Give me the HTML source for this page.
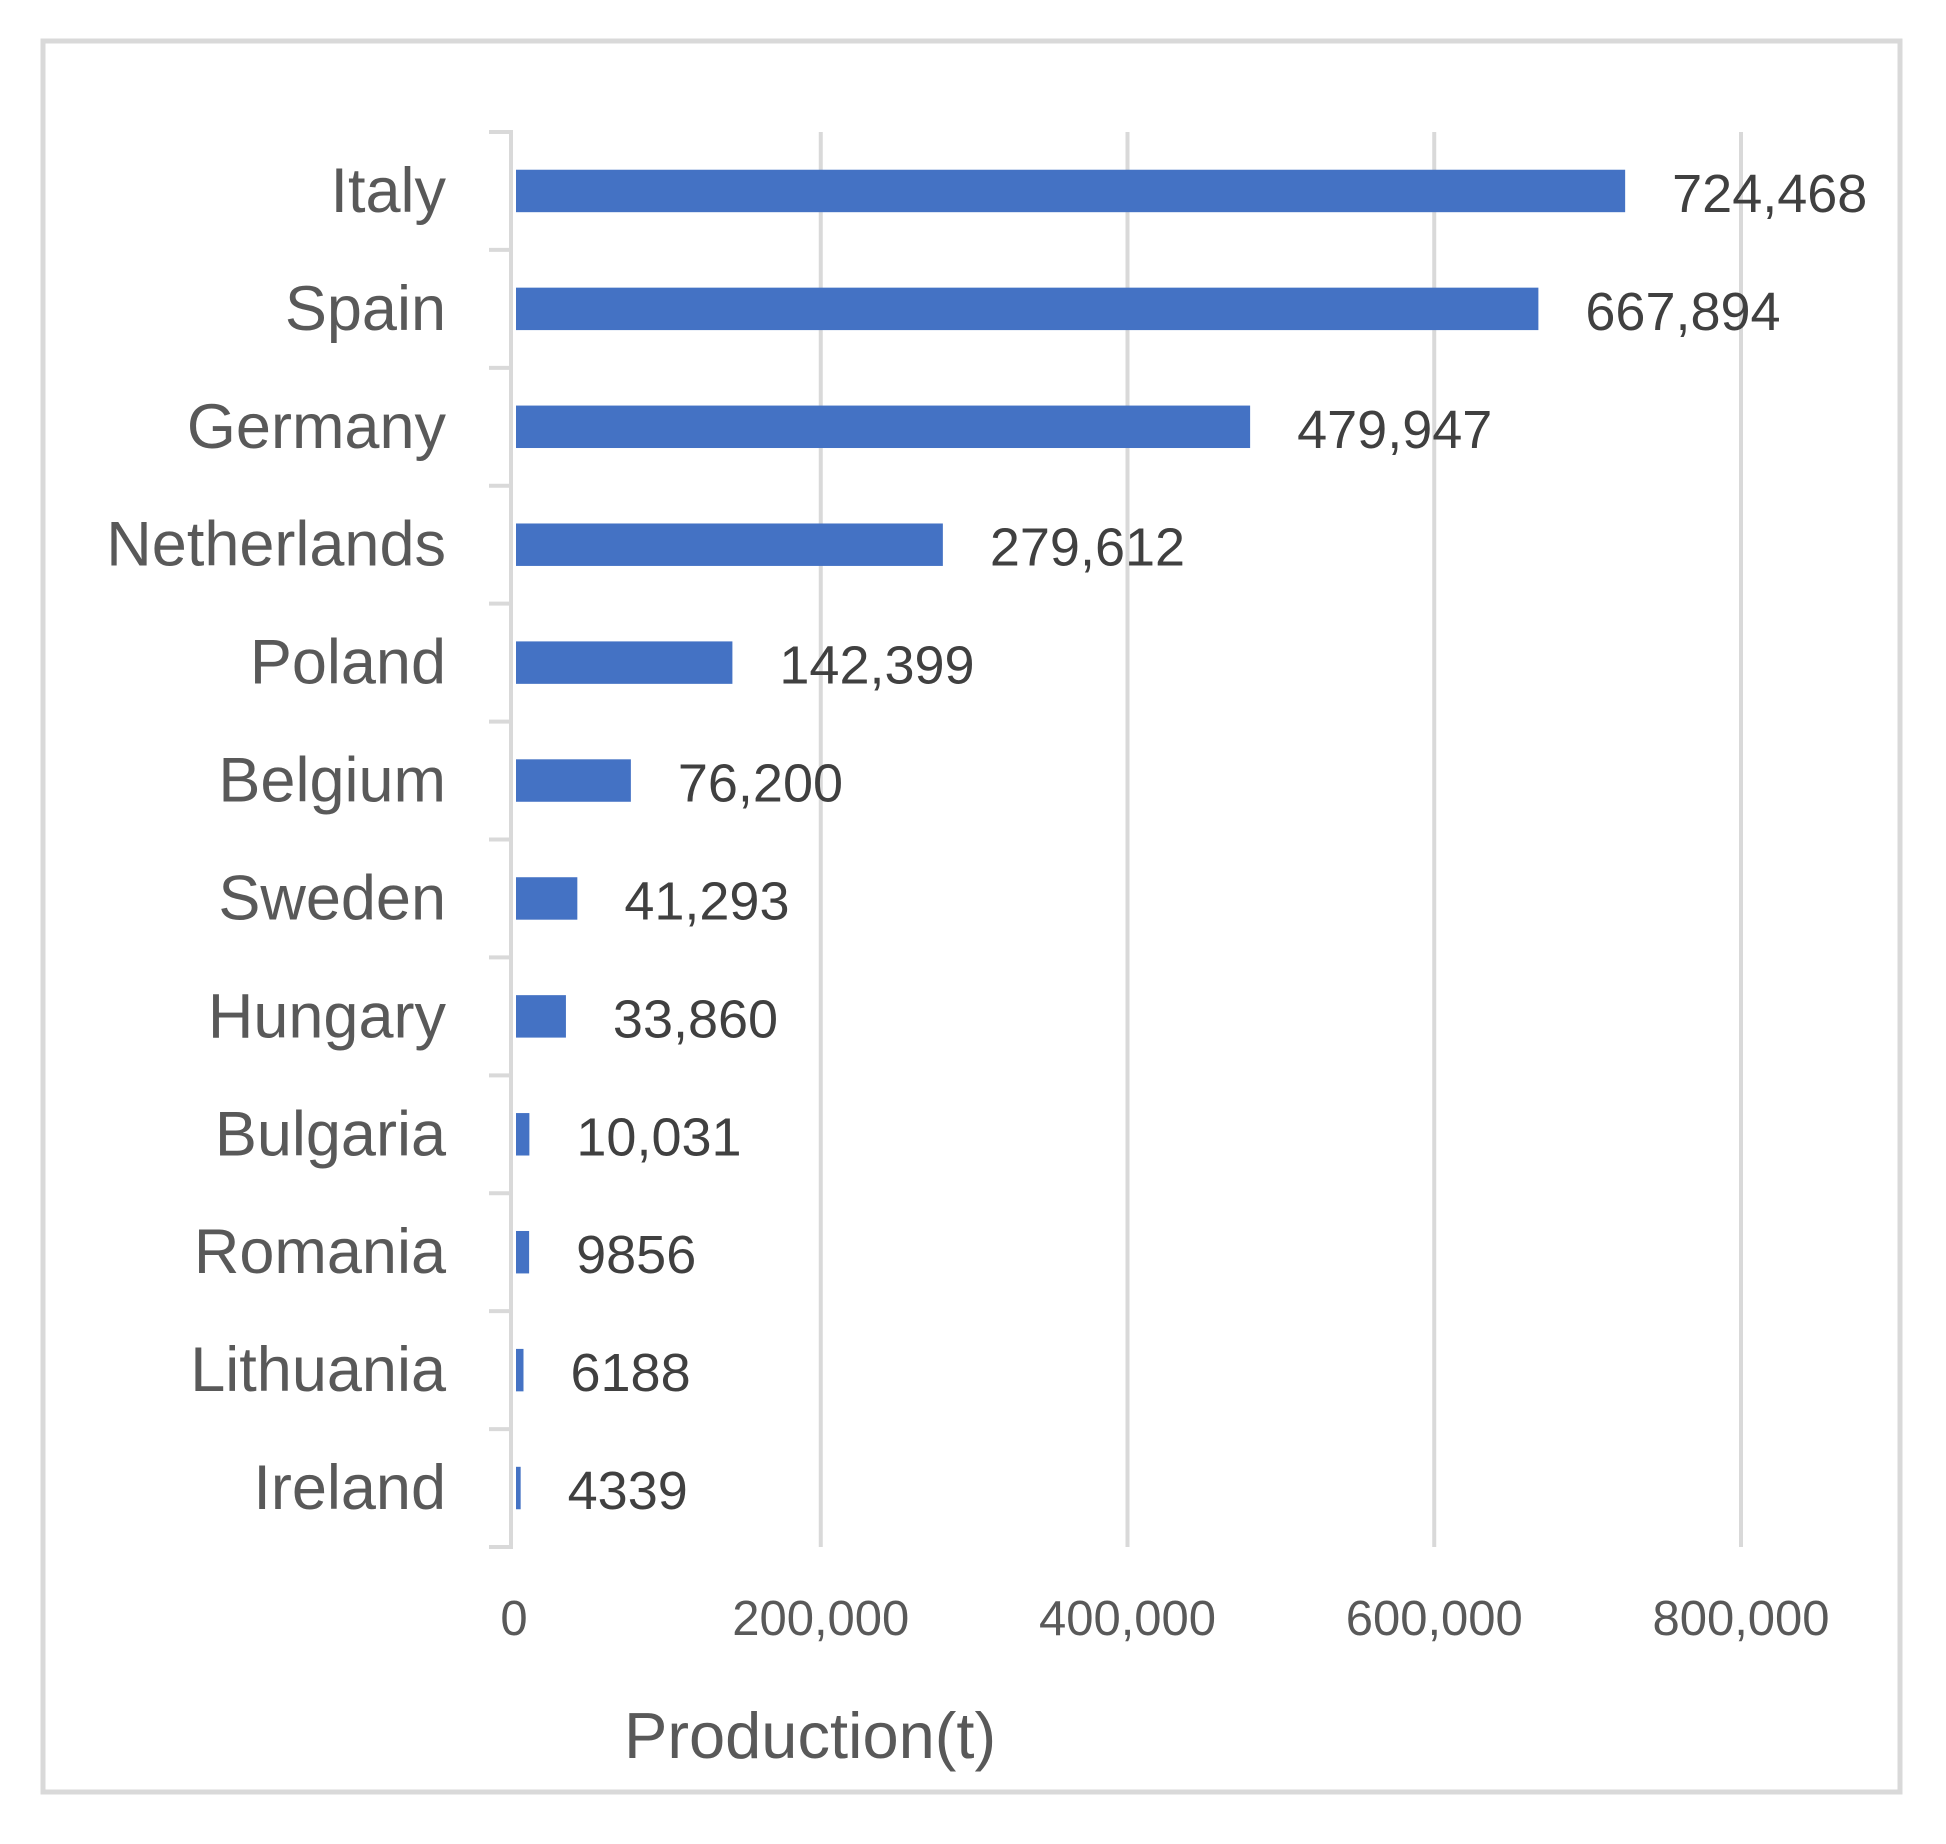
<!DOCTYPE html>
<html><head><meta charset="utf-8"><style>
html,body{margin:0;padding:0;background:#fff;}
svg{display:block;font-family:"Liberation Sans",sans-serif;}
</style></head><body>
<svg id="chart" width="1946" height="1844" viewBox="0 0 1946 1844" xmlns="http://www.w3.org/2000/svg">
<rect x="43" y="41" width="1857" height="1751" fill="#fff" stroke="#d9d9d9" stroke-width="5"/>
<g id="grid"></g>
<g id="bars"></g>
<g id="labels"></g>
<text x="624" y="1758" font-size="65" fill="#595959">Production(t)</text>
</svg>
<script>
const categories = ["Italy","Spain","Germany","Netherlands","Poland","Belgium","Sweden","Hungary","Bulgaria","Romania","Lithuania","Ireland"];
const values = [724468,667894,479947,279612,142399,76200,41293,33860,10031,9856,6188,4339];
const valueLabels = ["724,468","667,894","479,947","279,612","142,399","76,200","41,293","33,860","10,031","9856","6188","4339"];
const ticks = [0,200000,400000,600000,800000];
const tickLabels = ["0","200,000","400,000","600,000","800,000"];

const NS="http://www.w3.org/2000/svg";
const x0=514, x1=1741, xmax=800000, yTop=132, yBottom=1547;
const band=(yBottom-yTop)/categories.length;
function xs(v){return x0+(v/xmax)*(x1-x0);}
function yc(i){return yTop+band*(i+0.5);}
function mk(tag,attrs,parent){const e=document.createElementNS(NS,tag);for(const k in attrs)e.setAttribute(k,attrs[k]);parent.appendChild(e);return e;}
const grid=document.getElementById('grid'),bars=document.getElementById('bars'),labels=document.getElementById('labels');
ticks.forEach((t,i)=>{
  if(i>0){
    const g=mk('line',{x1:xs(t),x2:xs(t),y1:yTop,y2:yBottom,stroke:'#d9d9d9','stroke-width':4},grid);
    
    
  }
  const tl=mk('text',{x:xs(t),y:1635,'font-size':49,fill:'#595959','text-anchor':'middle'},labels);
  tl.textContent=tickLabels[i];
  
  
});
const ax=mk('line',{x1:511,x2:511,y1:yTop,y2:yBottom+2,stroke:'#d9d9d9','stroke-width':4},grid);


for(let i=0;i<=categories.length;i++){
  const y=yTop+band*i;
  const tk=mk('line',{x1:489,x2:513,y1:y,y2:y,stroke:'#d9d9d9','stroke-width':4},grid);
  
  
}
categories.forEach((c,i)=>{
  const h=band*0.36;
  const b=mk('rect',{x:x0+2,y:yc(i)-h/2,width:Math.max(1,xs(values[i])-x0-2),height:h,fill:'#4472c4'},bars);
  
  
  const cl=mk('text',{x:446,y:yc(i)+21,'font-size':63,fill:'#595959','text-anchor':'end'},labels);
  cl.textContent=c;
  
  
  const vl=mk('text',{x:xs(values[i])+47,y:yc(i)+21,'font-size':54,fill:'#404040'},labels);
  vl.textContent=valueLabels[i];
  
  
});
</script>
</body></html>
